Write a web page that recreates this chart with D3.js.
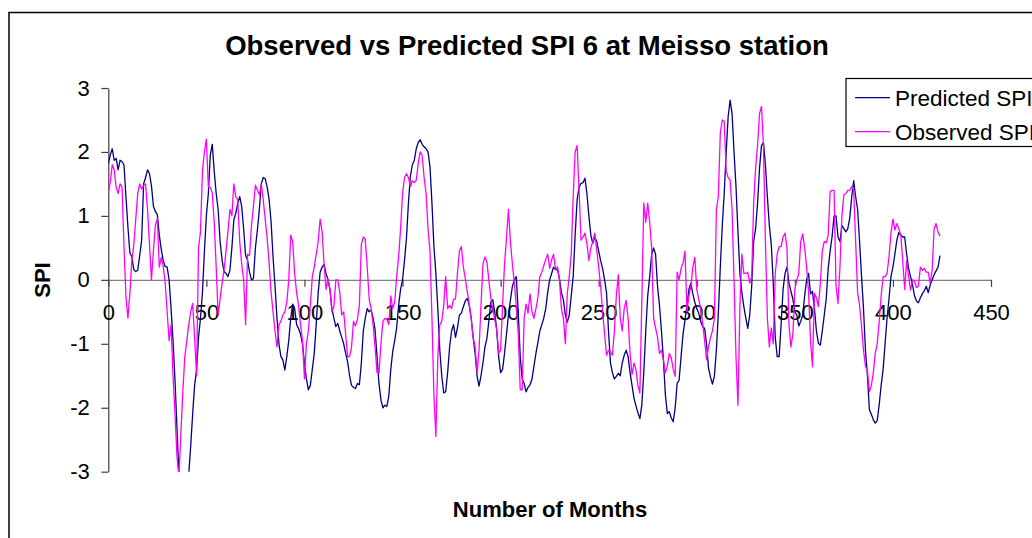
<!DOCTYPE html>
<html>
<head>
<meta charset="utf-8">
<script src="https://cdn.jsdelivr.net/npm/d3@7"></script>
<style>
  body { margin: 0; background: #fff; }
  svg { display: block; font-family: "Liberation Sans", Arial, sans-serif; }
</style>
</head>
<body>
<svg id="chart" width="1032" height="538"></svg>
<script>
// SPI 6 values, one per month (index = month number)
let predictedSPI = [
  1.82,1.95,2.05,1.87,1.9,1.72,1.87,1.85,1.8,1.3,0.83,0.42,0.36,0.16,0.13,0.15,0.38,0.62,1.5,1.6,
  1.72,1.66,1.47,1.15,1.07,1.02,0.7,0.48,0.3,0.21,0.2,0.0,-0.45,-0.95,-1.57,-2.3,-3.05,-3.4,-3.6,-3.5,
  -3.3,-3.05,-2.6,-2.1,-1.65,-1.41,-0.9,-0.6,-0.2,0.45,1.0,1.35,1.95,2.12,1.7,1.35,1.1,0.6,0.31,0.13,
  0.1,0.05,0.15,0.5,0.94,1.04,1.2,1.3,1.15,0.8,0.38,0.31,0.12,0.0,0.02,0.5,0.78,1.1,1.5,1.6,
  1.58,1.45,1.25,0.9,0.35,-0.1,-0.6,-1.0,-1.2,-1.25,-1.41,-1.2,-0.95,-0.6,-0.38,-0.45,-0.7,-0.76,-0.85,-1.0,
  -1.3,-1.55,-1.72,-1.65,-1.4,-1.15,-0.7,-0.2,0.12,0.2,0.24,0.1,0.0,-0.15,-0.45,-0.6,-0.73,-0.68,-0.8,-0.9,
  -1.0,-1.15,-1.28,-1.5,-1.65,-1.68,-1.7,-1.62,-1.64,-1.3,-0.8,-0.6,-0.45,-0.5,-0.47,-0.6,-0.78,-1.2,-1.62,-1.88,
  -2.0,-1.96,-1.98,-1.82,-1.4,-1.12,-0.95,-0.75,-0.4,-0.15,0.0,0.3,0.65,1.2,1.62,1.8,1.87,2.05,2.15,2.19,
  2.12,2.08,2.05,2.0,1.77,1.2,0.52,0.1,-0.45,-1.1,-1.5,-1.77,-1.75,-1.45,-1.05,-0.8,-0.7,-0.9,-0.75,-0.55,
  -0.52,-0.42,-0.33,-0.29,-0.4,-0.6,-0.9,-1.15,-1.5,-1.66,-1.5,-1.3,-1.05,-0.92,-0.65,-0.35,-0.31,-0.5,-0.78,-1.2,
  -1.45,-1.4,-1.15,-0.85,-0.55,-0.32,-0.1,0.0,0.05,-0.52,-1.2,-1.55,-1.62,-1.75,-1.68,-1.64,-1.55,-1.35,-1.15,-0.98,
  -0.8,-0.7,-0.6,-0.45,-0.2,0.0,0.1,0.2,0.16,0.16,0.02,-0.2,-0.31,-0.55,-0.66,-0.55,-0.25,0.05,0.7,1.25,
  1.45,1.51,1.52,1.59,1.35,1.0,0.7,0.57,0.67,0.6,0.45,0.3,0.18,0.0,-0.2,-0.8,-1.3,-1.45,-1.55,-1.51,
  -1.46,-1.5,-1.3,-1.18,-1.1,-1.2,-1.45,-1.65,-1.85,-1.97,-2.08,-2.17,-1.95,-1.45,-0.8,-0.25,0.05,0.4,0.5,0.4,
  -0.1,-0.4,-0.8,-1.25,-1.8,-2.09,-2.06,-2.16,-2.22,-2.0,-1.62,-1.57,-1.2,-0.85,-0.63,-0.4,-0.15,-0.05,-0.22,-0.35,
  -0.45,-0.52,-0.65,-0.73,-0.76,-1.0,-1.38,-1.52,-1.63,-1.5,-1.1,-0.52,0.2,0.85,1.35,2.0,2.55,2.81,2.6,2.0,
  1.46,0.75,0.1,-0.2,-0.42,-0.6,-0.76,-0.55,-0.1,0.6,0.8,1.2,1.75,2.1,2.15,1.8,1.3,0.85,0.55,-0.05,
  -0.9,-1.2,-1.2,-0.7,-0.15,0.1,0.2,-0.05,-0.18,-0.3,-0.5,-0.55,-0.72,-0.65,-0.55,-0.25,0.0,0.1,-0.22,-0.18,
  -0.45,-0.8,-0.99,-1.02,-0.8,-0.55,-0.3,0.18,0.45,0.68,1.0,1.0,0.67,0.6,0.85,0.8,0.75,0.8,0.97,1.3,
  1.55,1.3,1.1,0.6,0.05,-0.45,-1.1,-1.5,-2.03,-2.1,-2.19,-2.24,-2.2,-1.95,-1.65,-1.4,-1.0,-0.6,-0.3,0.05,
  0.2,0.4,0.62,0.74,0.7,0.67,0.67,0.4,0.18,0.05,-0.08,-0.25,-0.33,-0.36,-0.28,-0.22,-0.17,-0.1,-0.2,-0.08,
  0.0,0.08,0.14,0.2,0.38
];

let observedSPI = [
  1.38,1.52,1.8,1.72,1.45,1.35,1.5,1.45,0.52,-0.26,-0.6,-0.21,0.3,0.55,0.95,1.35,1.5,1.42,1.48,1.5,
  1.1,0.55,0.0,0.45,0.85,0.96,0.2,0.35,0.21,-0.05,-0.5,-0.95,-0.7,-1.5,-2.1,-2.75,-3.1,-2.4,-1.75,-1.2,
  -0.96,-0.7,-0.5,-0.37,-0.9,-1.5,0.5,0.75,1.7,2.0,2.2,1.45,1.45,1.36,0.9,0.2,-0.55,-0.3,-0.05,0.15,
  0.45,0.75,1.1,1.0,1.5,1.3,1.25,0.6,0.25,0.0,-0.7,0.4,0.38,0.85,1.15,1.48,1.4,1.33,1.5,1.25,
  0.94,0.65,0.25,-0.2,-0.5,-0.8,-1.05,-0.7,-0.65,-0.55,-0.5,-0.35,0.0,0.7,0.6,0.1,-0.2,-0.4,-0.7,-0.95,
  -1.55,-1.0,-0.8,-0.4,0.05,0.2,0.4,0.6,0.95,0.75,0.25,-0.15,0.02,-0.15,-0.5,-0.42,0.0,0.0,-0.2,-0.55,
  -0.5,-0.85,-1.2,-1.2,-1.05,-0.65,-0.72,-0.62,-0.4,0.55,0.67,0.64,0.2,-0.3,-0.45,-0.7,-1.05,-1.45,-1.46,-1.0,
  -0.65,-0.6,-0.62,-0.7,-0.25,-0.45,-0.35,0.05,0.35,0.8,1.35,1.6,1.66,1.6,1.46,1.55,1.52,1.56,1.82,2.0,
  1.95,1.6,1.35,0.8,0.45,-0.6,-1.8,-2.45,-1.2,-0.7,-0.65,-0.4,0.05,-0.45,-0.4,-0.45,-0.3,-0.3,0.1,0.45,
  0.52,0.2,0.02,-0.18,-0.38,-0.6,-0.9,-1.05,-1.45,-1.1,-0.4,0.25,0.36,0.28,0.0,-0.28,-0.45,-0.62,-0.78,-1.15,
  -1.1,-0.4,0.25,0.65,1.1,0.6,0.25,-0.05,-0.42,-0.84,-1.72,-1.72,-0.6,-0.38,-0.52,-0.22,-0.5,-0.6,-0.45,-0.28,
  0.05,0.12,0.22,0.32,0.4,0.18,0.31,0.4,0.17,0.2,0.0,-0.45,-0.6,-1.0,-0.21,0.05,0.4,1.3,2.0,2.1,
  1.4,0.62,0.67,0.73,0.57,0.3,0.5,0.6,0.73,0.47,0.2,-0.1,-0.5,-0.84,-1.18,-1.1,-1.12,-1.18,-0.8,-0.25,
  0.08,-0.6,-0.8,-0.45,-0.32,-0.6,-1.15,-1.48,-1.3,-1.4,-1.65,-1.77,-0.3,1.2,0.9,1.2,0.9,0.5,-0.6,-0.75,
  -0.9,-1.15,-1.1,-1.25,-1.45,-1.35,-1.15,-1.22,-1.4,-1.51,0.12,0.0,0.18,0.26,0.45,-0.5,-0.25,-0.1,0.2,0.35,
  -0.15,-0.3,-0.45,-0.68,-0.95,-1.25,-1.05,-0.9,-0.8,-0.6,1.1,1.3,2.3,2.5,2.48,1.7,1.6,1.56,1.1,0.0,
  -1.2,-1.96,-0.4,0.4,0.1,0.1,0.12,-0.05,0.05,1.2,1.75,2.1,2.6,2.71,2.1,0.6,-0.6,-1.05,-0.75,-1.0,
  0.1,0.4,0.52,0.52,0.67,0.73,0.5,-0.7,-1.05,-0.85,-0.15,0.0,0.1,0.6,0.72,0.5,0.21,-0.2,-0.95,-1.36,
  -0.21,-0.28,-0.42,-0.05,0.45,0.6,0.58,0.7,1.38,1.4,1.4,-0.1,-0.37,0.2,1.0,1.33,1.35,1.4,1.4,1.46,
  1.4,0.6,-0.2,-0.4,-0.72,-1.1,-1.35,-1.42,-1.75,-1.65,-1.45,-1.15,-1.0,-0.65,-0.25,0.05,0.05,0.1,0.36,0.73,
  0.95,0.78,0.88,0.8,0.7,0.3,-0.15,0.3,0.05,-0.16,0.0,-0.02,-0.12,-0.1,0.2,0.15,0.18,0.12,0.12,-0.05,
  0.15,0.8,0.88,0.75,0.68
];

let xTicks = [0, 50, 100, 150, 200, 250, 300, 350, 400, 450];
let yTicks = [-3, -2, -1, 0, 1, 2, 3];

let seriesNames = ['Predicted SPI', 'Observed SPI'];
let seriesColors = ['#000080', '#ff00ff'];

let svg = d3.select('#chart');

let x = d3.scaleLinear().domain([0, 450]).range([108.3, 991]);
let y = d3.scaleLinear().domain([-3, 3]).range([471.7, 88]);

// plain labels like "-3", "0", "450"
let plainFormat = (d) => String(d);

// chart frame
svg.append('rect')
  .attr('x', 9).attr('y', 12.5)
  .attr('width', 1100).attr('height', 600)
  .attr('fill', '#fff')
  .attr('stroke', '#000')
  .attr('stroke-width', 1.5);

// title
svg.append('text')
  .attr('x', 527).attr('y', 55)
  .attr('text-anchor', 'middle')
  .attr('font-size', 27.5)
  .attr('font-weight', 'bold')
  .text('Observed vs Predicted SPI 6 at Meisso station');

// y axis
let yAxis = svg.append('g')
  .attr('transform', 'translate(' + x(0) + ',0)')
  .call(d3.axisLeft(y).tickValues(yTicks).tickFormat(plainFormat)
    .tickSize(7).tickSizeOuter(0).tickPadding(11.5));
yAxis.select('.domain').attr('stroke', '#404040').attr('stroke-width', 1.2);
yAxis.selectAll('.tick line').attr('stroke', '#404040').attr('stroke-width', 1.2);
yAxis.selectAll('text').attr('font-size', 22).attr('fill', '#000')
  .attr('font-family', '"Liberation Sans", Arial, sans-serif');

// x axis sits on SPI = 0
let xAxis = svg.append('g')
  .attr('transform', 'translate(0,' + y(0) + ')')
  .call(d3.axisBottom(x).tickValues(xTicks).tickFormat(plainFormat)
    .tickSize(7).tickSizeOuter(0).tickPadding(18));
xAxis.select('.domain').attr('stroke', '#808080').attr('stroke-width', 1.4);
xAxis.selectAll('.tick line').attr('stroke', '#404040').attr('stroke-width', 1.2);
xAxis.selectAll('text').attr('font-size', 22).attr('fill', '#000')
  .attr('font-family', '"Liberation Sans", Arial, sans-serif');

// axis titles
svg.append('text')
  .attr('x', 550).attr('y', 517)
  .attr('text-anchor', 'middle')
  .attr('font-size', 22)
  .attr('font-weight', 'bold')
  .text('Number of Months');

svg.append('text')
  .attr('transform', 'translate(50,280) rotate(-90)')
  .attr('text-anchor', 'middle')
  .attr('font-size', 22)
  .attr('font-weight', 'bold')
  .text('SPI');

// clip lines to the plot area
svg.append('clipPath').attr('id', 'plotClip')
  .append('rect')
  .attr('x', x(0)).attr('y', y(3))
  .attr('width', x(450) - x(0)).attr('height', y(-3) - y(3));

let line = d3.line()
  .x((d, i) => x(i))
  .y((d) => y(d));

let plot = svg.append('g').attr('clip-path', 'url(#plotClip)');

[predictedSPI, observedSPI].forEach((series, k) => {
  plot.append('path')
    .datum(series)
    .attr('fill', 'none')
    .attr('stroke', seriesColors[k])
    .attr('stroke-width', 1.3)
    .attr('stroke-linejoin', 'round')
    .attr('d', line);
});

// legend (runs off the right edge, as in the original)
let legend = svg.append('g');
legend.append('rect')
  .attr('x', 846).attr('y', 78.5)
  .attr('width', 260).attr('height', 68)
  .attr('fill', '#fff')
  .attr('stroke', '#000')
  .attr('stroke-width', 1.2);

seriesNames.forEach((name, k) => {
  let ly = 97.7 + k * 34;
  legend.append('line')
    .attr('x1', 855).attr('x2', 890)
    .attr('y1', ly).attr('y2', ly)
    .attr('stroke', seriesColors[k])
    .attr('stroke-width', 1.3);
  legend.append('text')
    .attr('x', 895).attr('y', ly + 8)
    .attr('font-size', 22.5)
    .text(name);
});
</script>
</body>
</html>
